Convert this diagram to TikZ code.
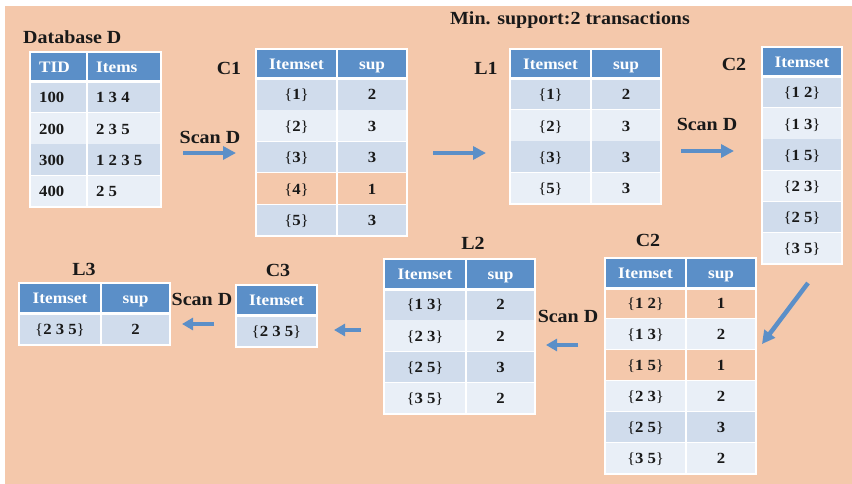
\documentclass[tikz,border=0pt]{standalone}
\usepackage{fontspec}
\setmainfont[FakeStretch=1.08]{Liberation Serif}
\usetikzlibrary{arrows.meta}
\definecolor{bg}{HTML}{F4C8AB}
\definecolor{hd}{HTML}{5B8FC8}
\definecolor{rd}{HTML}{D0DCEC}
\definecolor{rl}{HTML}{E9EFF7}
\tikzset{
  ctext/.style={font=\bfseries\fontsize{15.5}{15.5}\selectfont, text=black!90, inner sep=0pt, text height=11.5pt, text depth=1pt},
  htext/.style={font=\bfseries\fontsize{16}{16}\selectfont, text=white, inner sep=0pt, text height=12pt, text depth=1pt},
  lbl/.style={font=\bfseries\fontsize{18.5}{18.5}\selectfont, text=black!90, inner sep=0pt},
  gridline/.style={draw=white, line width=1.5pt},
  hdline/.style={draw=white, line width=3pt},
  bigarrow/.style={draw=hd, line width=4.5pt, -{Triangle[length=13pt,width=13pt]}},
}
\newcommand\setbr[1]{{\mdseries\{}#1{\mdseries\}}}
% name, x1, xs, x2, ytop, yhb, rowh, nrows, rows (text/sup/fill)
\newcommand\mktab[9]{%
  \fill[hd] (#2,#5) rectangle (#4,#6);
  \node[htext] (#1h1) at ({(#2+#3)/2},{(#5+#6)/2}) {Itemset};
  \node[htext] (#1h2) at ({(#3+#4)/2},{(#5+#6)/2}) {sup};
  \foreach \a/\b/\f [count=\i from 0] in {#9} {
    \fill[\f] (#2,{#6+\i*#7}) rectangle (#4,{#6+(\i+1)*#7});
    \node[ctext] (#1r\i a) at ({(#2+#3)/2},{#6+(\i+0.5)*#7}) {\setbr{\a}};
    \node[ctext] (#1r\i b) at ({(#3+#4)/2},{#6+(\i+0.5)*#7}) {\b};
    \draw[gridline] (#2,{#6+(\i+1)*#7}) -- (#4,{#6+(\i+1)*#7});
  }
  \draw[gridline] (#3,#5) -- (#3,{#6+#8*#7});
  \draw[gridline] (#2,#5) rectangle (#4,{#6+#8*#7});
  \draw[hdline] (#2,#6) -- (#4,#6);
}
% name, x1, x2, ytop, yhb, rowh, nrows, rows (text/fill)
\newcommand\mktabone[8]{%
  \fill[hd] (#2,#4) rectangle (#3,#5);
  \node[htext] (#1h1) at ({(#2+#3)/2},{(#4+#5)/2}) {Itemset};
  \foreach \a/\f [count=\i from 0] in {#8} {
    \fill[\f] (#2,{#5+\i*#6}) rectangle (#3,{#5+(\i+1)*#6});
    \node[ctext] (#1r\i a) at ({(#2+#3)/2},{#5+(\i+0.5)*#6}) {\setbr{\a}};
    \draw[gridline] (#2,{#5+(\i+1)*#6}) -- (#3,{#5+(\i+1)*#6});
  }
  \draw[gridline] (#2,#4) rectangle (#3,{#5+#7*#6});
  \draw[hdline] (#2,#5) -- (#3,#5);
}
\begin{document}
\begin{tikzpicture}[x=1pt, y=-1pt]
\useasboundingbox (0,0) rectangle (852,484);
\fill[bg] (5,6) rectangle (852,484);

% title
\node[lbl] (minsup) at (570,20) {Min. support:2 transactions};

% Database D
\node[lbl, anchor=west] (dblbl) at (23,37) {Database D};
\fill[hd] (30,52) rectangle (161,82);
\node[htext, anchor=west] (dbh1) at (39,67) {TID};
\node[htext, anchor=west] (dbh2) at (96,67) {Items};
\foreach \t/\v/\f [count=\i from 0] in {100/1 3 4/rd, 200/2 3 5/rl, 300/1 2 3 5/rd, 400/2 5/rl} {
  \fill[\f] (30,{82+\i*31.25}) rectangle (161,{82+(\i+1)*31.25});
  \node[ctext, anchor=west] (db\i a) at (39,{82+(\i+0.5)*31.25}) {\t};
  \node[ctext, anchor=west] (db\i b) at (96,{82+(\i+0.5)*31.25}) {\v};
  \draw[gridline] (30,{82+(\i+1)*31.25}) -- (161,{82+(\i+1)*31.25});
}
\draw[gridline] (87,52) -- (87,207);
\draw[gridline] (30,52) rectangle (161,207);
\draw[hdline] (30,82) -- (161,82);

% C1
\node[lbl] (c1lbl) at (229,68) {C1};
\mktab{c1}{256}{337}{407}{49}{79}{31.4}{5}{1/2/rd, 2/3/rl, 3/3/rd, 4/1/bg, 5/3/rd}

% L1
\node[lbl] (l1lbl) at (486,68) {L1};
\mktab{l1}{510}{591}{661}{49}{79}{31.25}{4}{1/2/rd, 2/3/rl, 3/3/rd, 5/3/rl}

% C2 (top right)
\node[lbl] (c2alb) at (734,64) {C2};
\mktabone{c2a}{762}{842}{47}{77}{31.2}{6}{1 2/rd, 1 3/rl, 1 5/rd, 2 3/rl, 2 5/rd, 3 5/rl}

% C2 (bottom)
\node[lbl] (c2blb) at (648,240) {C2};
\mktab{c2b}{605}{686}{756}{258}{288}{31}{6}{1 2/1/bg, 1 3/2/rl, 1 5/1/bg, 2 3/2/rl, 2 5/3/rd, 3 5/2/rl}

% L2
\node[lbl] (l2lbl) at (473,243) {L2};
\mktab{l2}{384}{466}{535}{259}{289}{31.25}{4}{1 3/2/rd, 2 3/2/rl, 2 5/3/rd, 3 5/2/rl}

% C3
\node[lbl] (c3lbl) at (278,270) {C3};
\mktabone{c3}{236}{317}{285}{315}{32}{1}{2 3 5/rd}

% L3
\node[lbl] (l3lbl) at (84,269) {L3};
\mktab{l3}{19}{101}{170}{283}{313}{32}{1}{2 3 5/2/rd}

% Scan D labels
\node[lbl] (scan1) at (210,137) {Scan D};
\node[lbl] (scan2) at (707,124) {Scan D};
\node[lbl] (scan3) at (568,316) {Scan D};
\node[lbl] (scan4) at (202,299) {Scan D};

% arrows
\coordinate (a1s) at (183,153); \coordinate (a1e) at (236,153);
\coordinate (a2s) at (433,153); \coordinate (a2e) at (486,153);
\coordinate (a3s) at (681,151); \coordinate (a3e) at (734,151);
\coordinate (a4s) at (808,283); \coordinate (a4e) at (762,344);
\coordinate (a5s) at (578,345); \coordinate (a5e) at (546,345);
\coordinate (a6s) at (361,330); \coordinate (a6e) at (334,330);
\coordinate (a7s) at (214,324); \coordinate (a7e) at (182,324);
\draw[bigarrow] (a1s) -- (a1e);
\draw[bigarrow] (a2s) -- (a2e);
\draw[bigarrow] (a3s) -- (a3e);
\draw[bigarrow] (a4s) -- (a4e);
\draw[bigarrow, -{Triangle[length=11pt,width=12pt]}] (a5s) -- (a5e);
\draw[bigarrow, -{Triangle[length=11pt,width=12pt]}] (a6s) -- (a6e);
\draw[bigarrow, -{Triangle[length=11pt,width=12pt]}] (a7s) -- (a7e);
\end{tikzpicture}
\end{document}
